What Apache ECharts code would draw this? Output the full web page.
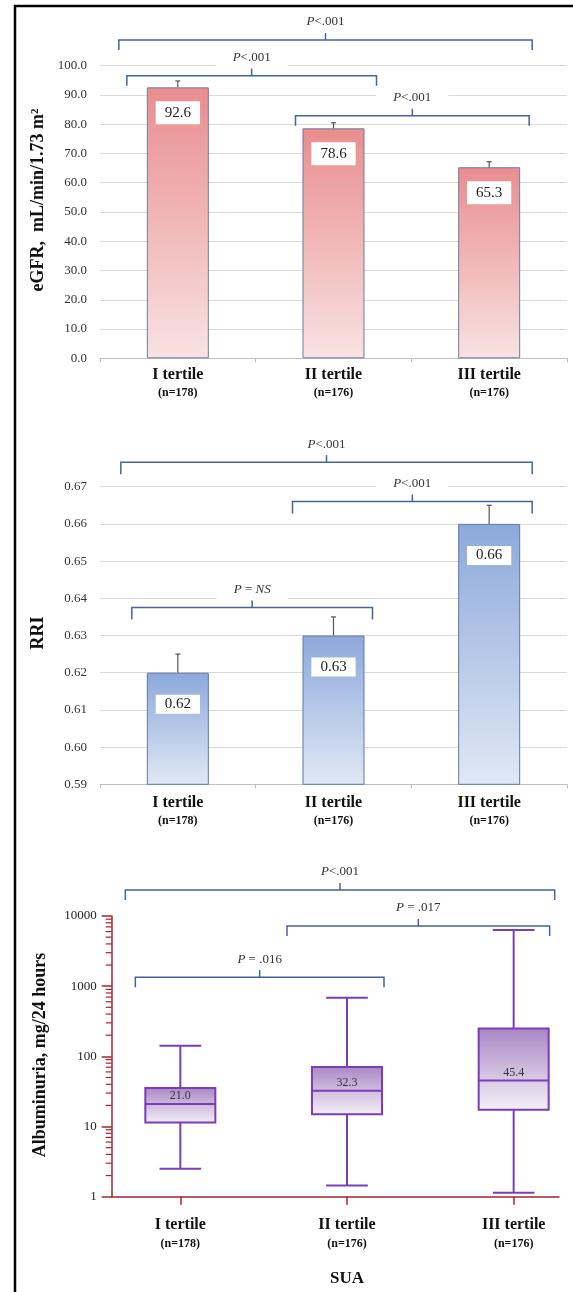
<!DOCTYPE html>
<html>
<head>
<meta charset="utf-8">
<script src="https://cdn.jsdelivr.net/npm/echarts@6/dist/echarts.min.js"></script>
<style>
html, body { margin: 0; padding: 0; background: #fff; }
#main { width: 573px; height: 1292px; }
</style>
</head>
<body>
<div id="main"></div>
<script>
// ---- data ----
var categories = ['I tertile', 'II tertile', 'III tertile'];
var groupSizes = ['(n=178)', '(n=176)', '(n=176)'];

var egfrMean = [92.6, 78.6, 65.3];
var egfrUpper = [94.8, 80.5, 67.2];

var rriMean = [0.62, 0.63, 0.66];
var rriUpper = [0.625, 0.635, 0.665];

var albLow = [2.5, 1.45, 1.14];
var albQ1 = [11.4, 15.0, 17.3];
var albMedian = [21.0, 32.3, 45.4];
var albQ3 = [35.4, 70.6, 249];
var albHigh = [142, 683, 6310];

// comparisons: [from, to, level (axis units), text]
var egfrTests = [[0, 2, 108.8, 'P<.001'], [0, 1, 96.6, 'P<.001'], [1, 2, 82.9, 'P<.001']];
var rriTests = [[0, 2, 0.6766, 'P<.001'], [1, 2, 0.666, 'P<.001'], [0, 1, 0.6375, 'P = NS']];
var albTests = [[0, 2, 23500, 'P<.001'], [1, 2, 7200, 'P = .017'], [0, 1, 1345, 'P = .016']];

// ---- layout / style ----
var serif = '"Liberation Serif", "Times New Roman", serif';
var bracketColor = '#4463A0';
var axisRed = '#A3262C';
var boxPurple = '#7C3DB8';
// how far each bracket sticks out past the category centres (px)
var egfrExt = [[-59, 43], [-51, 43], [-38, 40]];
var rriExt = [[-57, 43], [-41, 43], [-46, 39]];
var albExt = [[-55, 41], [-60, 36], [-45, 37]];

var minorLogTicks = [];
[1, 10, 100, 1000].forEach(function (d) {
    for (var m = 2; m <= 9; m++) minorLogTicks.push(d * m);
});

function catLabel(value, idx) {
    return '{a|' + value + '}\n{b|' + groupSizes[idx] + '}';
}
function catRich(lh) {
    return {
        a: { fontFamily: serif, fontWeight: 'bold', fontSize: 16, color: '#111', lineHeight: lh },
        b: { fontFamily: serif, fontWeight: 'bold', fontSize: 12, color: '#111', lineHeight: lh }
    };
}

function pText(t) {
    return t.replace('P', '{i|P}').replace('NS', '{i|NS}');
}

function bracketSeries(g, tests, ext, leg) {
    return {
        type: 'custom',
        xAxisIndex: g,
        yAxisIndex: g,
        silent: true,
        z: 6,
        encode: { x: [0, 1], y: 2 },
        data: tests.map(function (t) { return [t[0], t[1], t[2]]; }),
        renderItem: function (params, api) {
            var a = api.coord([api.value(0), api.value(2)]);
            var b = api.coord([api.value(1), api.value(2)]);
            var e = ext[params.dataIndex];
            var x1 = a[0] + e[0], x2 = b[0] + e[1], y = a[1];
            var mid = (x1 + x2) / 2;
            var st = { stroke: bracketColor, lineWidth: 1.5, fill: null };
            return {
                type: 'group',
                children: [
                    { type: 'polyline', shape: { points: [[x1, y + leg], [x1, y], [x2, y], [x2, y + leg]] }, style: st },
                    { type: 'line', shape: { x1: mid, y1: y, x2: mid, y2: y - 7 }, style: st },
                    {
                        type: 'text', x: mid, y: y - 18,
                        style: {
                            text: pText(tests[params.dataIndex][3]),
                            fontFamily: serif, fontSize: 13, fill: '#333',
                            align: 'center', verticalAlign: 'middle',
                            backgroundColor: '#fff', padding: [3, 17],
                            rich: { i: { fontFamily: serif, fontSize: 13, fontStyle: 'italic', fill: '#333' } }
                        }
                    }
                ]
            };
        }
    };
}

function errorSeries(g, mean, upper) {
    return {
        type: 'custom',
        xAxisIndex: g,
        yAxisIndex: g,
        silent: true,
        z: 4,
        encode: { x: 0, y: [1, 2] },
        data: mean.map(function (m, i) { return [i, m, upper[i]]; }),
        renderItem: function (params, api) {
            var p0 = api.coord([api.value(0), api.value(1)]);
            var p1 = api.coord([api.value(0), api.value(2)]);
            var st = { stroke: '#555', lineWidth: 1.2 };
            return {
                type: 'group',
                children: [
                    { type: 'line', shape: { x1: p0[0], y1: p0[1], x2: p1[0], y2: p1[1] }, style: st },
                    { type: 'line', shape: { x1: p1[0] - 2.5, y1: p1[1], x2: p1[0] + 2.5, y2: p1[1] }, style: st }
                ]
            };
        }
    };
}

function barGradient(top, bottom) {
    return new echarts.graphic.LinearGradient(0, 0, 0, 1, [
        { offset: 0, color: top }, { offset: 1, color: bottom }
    ]);
}

var myChart = echarts.init(document.getElementById('main'));

var option = {
    animation: false,
    backgroundColor: '#fff',
    grid: [
        { left: 100, width: 467, top: 65.7, height: 292.6, outerBoundsMode: 'none' },
        { left: 100, width: 467, top: 486.7, height: 297.6, outerBoundsMode: 'none' },
        { left: 97, width: 500, top: 916, height: 280.7, outerBoundsMode: 'none' },
        { left: 111.7, width: 447.3, top: 916, height: 280.7, outerBoundsMode: 'none' }
    ],
    xAxis: [
        {
            gridIndex: 0, type: 'category', data: categories,
            axisLine: { lineStyle: { color: '#BFBFBF' } },
            axisTick: { show: true, length: 4, lineStyle: { color: '#BFBFBF' } },
            axisLabel: { interval: 0, margin: 8, formatter: catLabel, rich: catRich(18) }
        },
        {
            gridIndex: 1, type: 'category', data: categories,
            axisLine: { lineStyle: { color: '#BFBFBF' } },
            axisTick: { show: true, length: 4, lineStyle: { color: '#BFBFBF' } },
            axisLabel: { interval: 0, margin: 9.5, formatter: catLabel, rich: catRich(18) }
        },
        {
            gridIndex: 2, type: 'category', data: categories,
            axisLine: { show: false },
            axisTick: { show: true, alignWithLabel: true, length: 8, lineStyle: { color: axisRed, width: 1.5 } },
            axisLabel: { interval: 0, margin: 19, formatter: catLabel, rich: catRich(19) },
            name: 'SUA', nameLocation: 'middle', nameGap: 73,
            nameTextStyle: { fontFamily: serif, fontWeight: 'bold', fontSize: 17, color: '#111' }
        },
        {
            gridIndex: 3, type: 'value', min: 0, max: 1,
            axisLine: { show: true, onZero: false, lineStyle: { color: axisRed, width: 1.5 } },
            axisTick: { show: false }, axisLabel: { show: false }, splitLine: { show: false }
        }
    ],
    yAxis: [
        {
            gridIndex: 0, type: 'value', min: 0, max: 100, interval: 10,
            axisLine: { show: false }, axisTick: { show: false },
            splitLine: { lineStyle: { color: '#D9D9D9' } },
            axisLabel: {
                margin: 13, fontFamily: serif, fontSize: 13, color: '#333',
                formatter: function (v) { return v.toFixed(1); }
            }
        },
        {
            gridIndex: 1, type: 'value', min: 0.59, max: 0.67, interval: 0.01,
            axisLine: { show: false }, axisTick: { show: false },
            splitLine: { lineStyle: { color: '#D9D9D9' } },
            axisLabel: {
                margin: 13, fontFamily: serif, fontSize: 13, color: '#333',
                formatter: function (v) { return v.toFixed(2); }
            }
        },
        { gridIndex: 2, type: 'log', logBase: 10, min: 1, max: 10000, show: false },
        {
            gridIndex: 3, type: 'log', logBase: 10, min: 1, max: 10000,
            axisLine: { show: true, onZero: false, lineStyle: { color: axisRed, width: 1.5 } },
            axisTick: { show: true, length: 10, lineStyle: { color: axisRed, width: 1.5 } },
            splitLine: { show: false },
            axisLabel: {
                margin: 15, fontFamily: serif, fontSize: 13, color: '#222',
                formatter: function (v) { return String(Math.round(v)); }
            }
        }
    ],
    graphic: [
        { type: 'polyline', shape: { points: [[15, 1292], [15, 6], [573, 6]] }, style: { stroke: '#000', lineWidth: 2.5, fill: null } },
        {
            type: 'text', x: 38, y: 200, rotation: Math.PI / 2,
            style: { text: 'eGFR,  mL/min/1.73 m²', font: 'bold 18px ' + serif, fill: '#111', align: 'center', verticalAlign: 'middle' }
        },
        {
            type: 'text', x: 38, y: 633, rotation: Math.PI / 2,
            style: { text: 'RRI', font: 'bold 18px ' + serif, fill: '#111', align: 'center', verticalAlign: 'middle' }
        },
        {
            type: 'text', x: 40, y: 1055, rotation: Math.PI / 2,
            style: { text: 'Albuminuria, mg/24 hours', font: 'bold 18px ' + serif, fill: '#111', align: 'center', verticalAlign: 'middle' }
        }
    ],
    series: [
        {
            type: 'bar', xAxisIndex: 0, yAxisIndex: 0, data: egfrMean, barWidth: 62,
            itemStyle: { color: barGradient('#E98D8E', '#F9E2E2'), borderColor: '#6D7DA0', borderWidth: 1 },
            label: {
                show: true, position: 'insideTop', distance: 14,
                formatter: function (p) { return p.value.toFixed(1); },
                backgroundColor: '#fff', padding: [4, 9],
                fontFamily: serif, fontSize: 15, color: '#222'
            }
        },
        errorSeries(0, egfrMean, egfrUpper),
        bracketSeries(0, egfrTests, egfrExt, 10),
        {
            type: 'bar', xAxisIndex: 1, yAxisIndex: 1, data: rriMean, barWidth: 62,
            itemStyle: { color: barGradient('#8CA9DB', '#E1E8F5'), borderColor: '#5F78A6', borderWidth: 1 },
            label: {
                show: true, position: 'insideTop', distance: 22,
                formatter: function (p) { return p.value.toFixed(2); },
                backgroundColor: '#fff', padding: [2, 9],
                fontFamily: serif, fontSize: 15, color: '#222'
            }
        },
        errorSeries(1, rriMean, rriUpper),
        bracketSeries(1, rriTests, rriExt, 12),
        {
            type: 'custom', xAxisIndex: 2, yAxisIndex: 2, silent: true, z: 4,
            encode: { x: 0, y: [1, 2, 3, 4, 5] },
            data: categories.map(function (c, i) {
                return [i, albLow[i], albQ1[i], albMedian[i], albQ3[i], albHigh[i]];
            }),
            renderItem: function (params, api) {
                var i = api.value(0);
                var band = api.size([1, 0])[0];
                var bw = band * 0.42, cw = band * 0.25;
                var lo = api.coord([i, api.value(1)]);
                var q1 = api.coord([i, api.value(2)]);
                var med = api.coord([i, api.value(3)]);
                var q3 = api.coord([i, api.value(4)]);
                var hi = api.coord([i, api.value(5)]);
                var cx = med[0];
                var st = { stroke: boxPurple, lineWidth: 2 };
                return {
                    type: 'group',
                    children: [
                        { type: 'line', shape: { x1: cx, y1: q3[1], x2: cx, y2: hi[1] }, style: st },
                        { type: 'line', shape: { x1: cx - cw / 2, y1: hi[1], x2: cx + cw / 2, y2: hi[1] }, style: st },
                        { type: 'line', shape: { x1: cx, y1: q1[1], x2: cx, y2: lo[1] }, style: st },
                        { type: 'line', shape: { x1: cx - cw / 2, y1: lo[1], x2: cx + cw / 2, y2: lo[1] }, style: st },
                        {
                            type: 'rect',
                            shape: { x: cx - bw / 2, y: q3[1], width: bw, height: q1[1] - q3[1] },
                            style: { fill: barGradient('#A986C5', '#F5F1F7'), stroke: boxPurple, lineWidth: 2 }
                        },
                        { type: 'line', shape: { x1: cx - bw / 2, y1: med[1], x2: cx + bw / 2, y2: med[1] }, style: st },
                        {
                            type: 'text', x: cx, y: med[1] - 8,
                            style: {
                                text: albMedian[params.dataIndex].toFixed(1),
                                fontFamily: serif, fontSize: 12, fill: '#333',
                                align: 'center', verticalAlign: 'middle'
                            }
                        }
                    ]
                };
            }
        },
        bracketSeries(2, albTests, albExt, 10),
        {
            type: 'custom', xAxisIndex: 3, yAxisIndex: 3, silent: true,
            data: minorLogTicks.map(function (v) { return [0, v]; }),
            renderItem: function (params, api) {
                var p = api.coord([0, api.value(1)]);
                return {
                    type: 'line',
                    shape: { x1: p[0] - 6, y1: p[1], x2: p[0], y2: p[1] },
                    style: { stroke: axisRed, lineWidth: 1.2 }
                };
            }
        }
    ]
};

myChart.setOption(option);
</script>
</body>
</html>
